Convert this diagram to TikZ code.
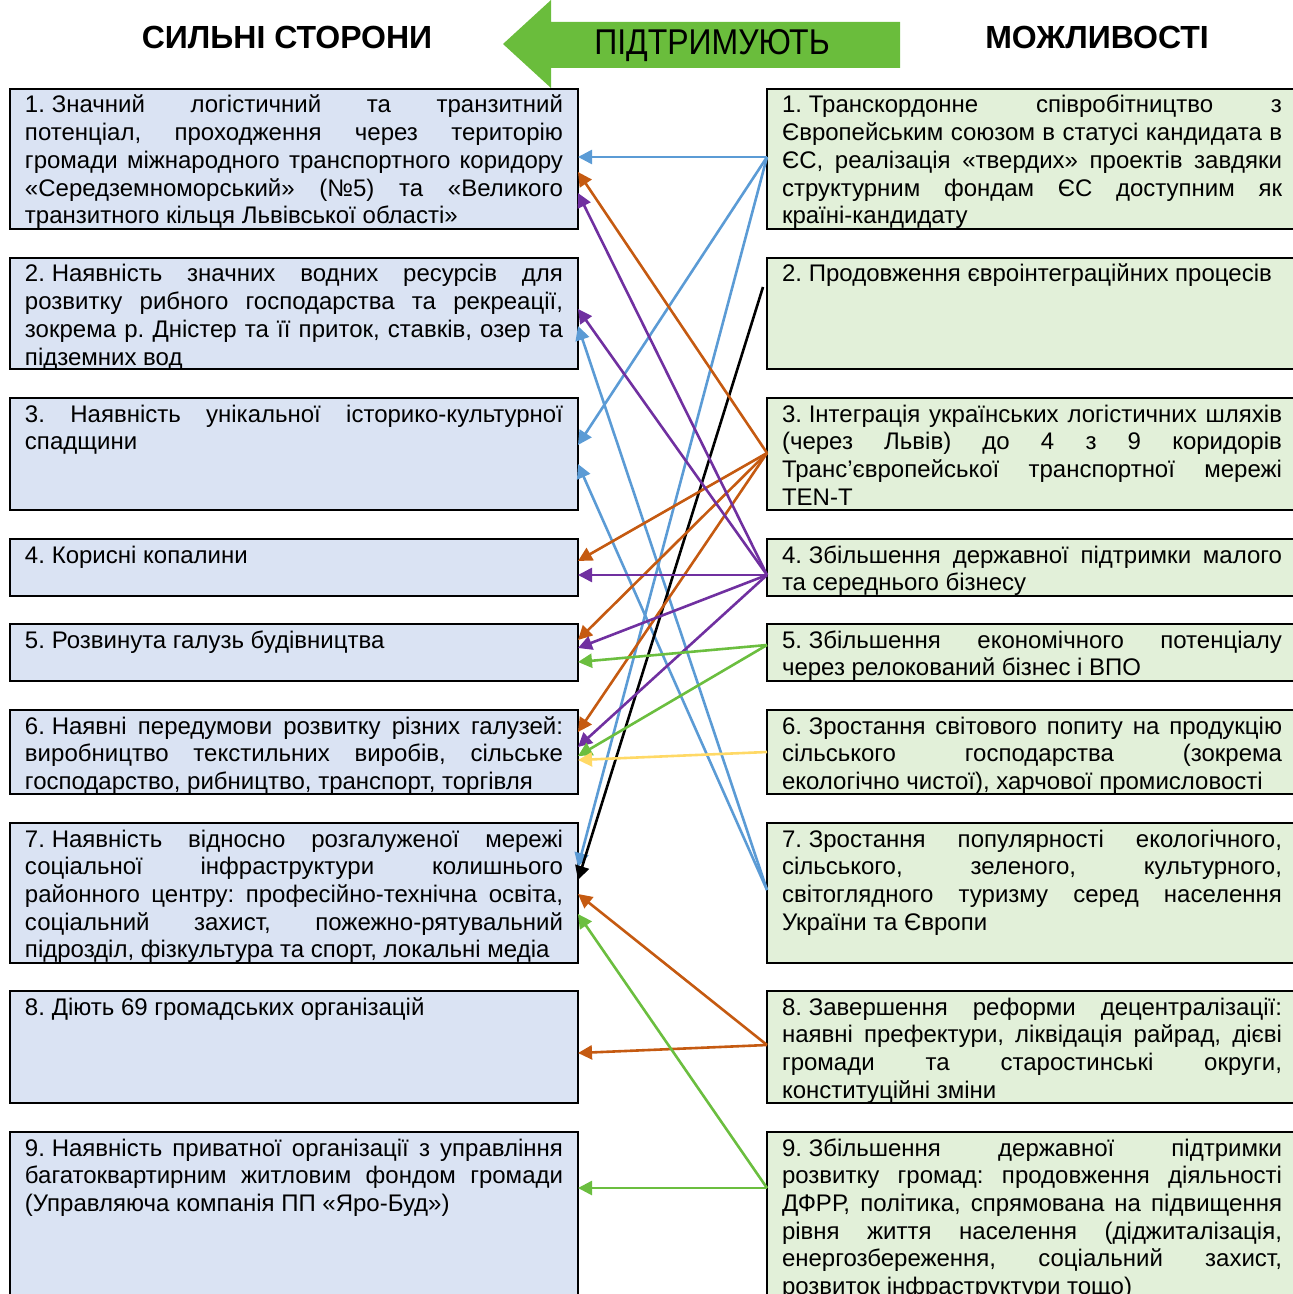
\documentclass[tikz,border=0pt]{standalone}
\usepackage{fontspec}
\setmainfont{Liberation Sans}
\usetikzlibrary{arrows.meta}

\definecolor{sfill}{HTML}{DAE3F3}
\definecolor{ofill}{HTML}{E2F0D9}
\definecolor{lblue}{HTML}{5B9BD5}
\definecolor{lorange}{HTML}{C55A11}
\definecolor{lviolet}{HTML}{7030A0}
\definecolor{lgreen}{HTML}{6BBE3F}
\definecolor{lyellow}{HTML}{FFD966}
\definecolor{bigarrow}{HTML}{6ABD3C}

\newcommand{\nm}[1]{#1.\kern3.4pt\relax}

\begin{document}
\begin{tikzpicture}[x=0.5pt, y=-0.5pt,
        strength/.style={draw, line width=1pt, fill=sfill, anchor=north west, outer sep=0pt,
            text width=269pt, inner xsep=7.5pt, inner ysep=0.5pt, text height=11.5pt,
            align=justify, font=\fontsize{12}{13.85}\selectfont\frenchspacing},
        chance/.style={strength, fill=ofill, text width=250pt},
        head/.style={font=\fontsize{16}{19}\selectfont\bfseries},
        link/.style={line width=1.3pt, -{Triangle[length=7pt, width=7pt]}}
    ]
    \useasboundingbox (0,0) rectangle (1293,1294);
    \clip (0,0) rectangle (1293,1294);

    % Заголовки
    \fill[bigarrow] (503,44) -- (551,0) -- (551,22) -- (900,22) -- (900,68) -- (551,68) -- (551,88) -- cycle;
    \node[font=\fontsize{16}{19}\selectfont, yscale=1.12] (pidtr) at (712,46) {ПІДТРИМУЮТЬ};
    \node[head] (sylni) at (287,37) {СИЛЬНІ СТОРОНИ};
    \node[head] (mozhl) at (1097,37) {МОЖЛИВОСТІ};

    % Сильні сторони
    \node[strength, text depth=57.5pt] (s1) at (10,89) {\nm{1}Значний логістичний та транзитний\linebreak
        потенціал, проходження через територію\linebreak
        громади міжнародного транспортного коридору\linebreak
        «Середземноморський» (№5) та «Великого\linebreak
        транзитного кільця Львівської області»};
    \node[strength, text depth=43pt] (s2) at (10,258) {\nm{2}Наявність значних водних ресурсів для\linebreak
        розвитку рибного господарства та рекреації,\linebreak
        зокрема р. Дністер та її приток, ставків, озер та\linebreak
        підземних вод};
    \node[strength, text depth=43.5pt] (s3) at (10,398) {3. Наявність унікальної історико-культурної\linebreak
        спадщини};
    \node[strength, text depth=16pt] (s4) at (10,539) {\nm{4}Корисні копалини};
    \node[strength, text depth=16pt] (s5) at (10,624) {\nm{5}Розвинута галузь будівництва};
    \node[strength, text depth=29.5pt] (s6) at (10,710) {\nm{6}Наявні передумови розвитку різних галузей:\linebreak
        виробництво текстильних виробів, сільське\linebreak
        господарство, рибництво, транспорт, торгівля};
    \node[strength, text depth=57.5pt] (s7) at (10,823) {\nm{7}Наявність відносно розгалуженої мережі\linebreak
        соціальної інфраструктури колишнього\linebreak
        районного центру: професійно-технічна освіта,\linebreak
        соціальний захист, пожежно-рятувальний\linebreak
        підрозділ, фізкультура та спорт, локальні медіа};
    \node[strength, text depth=43.5pt] (s8) at (10,991) {\nm{8}Діють 69 громадських організацій};
    \node[strength, text depth=100pt] (s9) at (10,1132) {\nm{9}Наявність приватної організації з управління\linebreak
        багатоквартирним житловим фондом громади\linebreak
        (Управляюча компанія ПП «Яро-Буд»)};

    % Можливості
    \node[chance, text depth=57.5pt] (o1) at (767,89) {\nm{1}Транскордонне співробітництво з\linebreak
        Європейським союзом в статусі кандидата в\linebreak
        ЄС, реалізація «твердих» проектів завдяки\linebreak
        структурним фондам ЄС доступним як\linebreak
        країні-кандидату};
    \node[chance, text depth=43pt] (o2) at (767,258) {\nm{2}Продовження євроінтеграційних процесів};
    \node[chance, text depth=43.5pt] (o3) at (767,398) {\nm{3}Інтеграція українських логістичних шляхів\linebreak
        (через Львів) до 4 з 9 коридорів\linebreak
        Транс’європейської транспортної мережі\linebreak
        TEN-T};
    \node[chance, text depth=16pt] (o4) at (767,539) {\nm{4}Збільшення державної підтримки малого\linebreak
        та середнього бізнесу};
    \node[chance, text depth=16pt] (o5) at (767,624) {\nm{5}Збільшення економічного потенціалу\linebreak
        через релокований бізнес і ВПО};
    \node[chance, text depth=29.5pt] (o6) at (767,710) {\nm{6}Зростання світового попиту на продукцію\linebreak
        сільського господарства (зокрема\linebreak
        екологічно чистої), харчової промисловості};
    \node[chance, text depth=57.5pt] (o7) at (767,823) {\nm{7}Зростання популярності екологічного,\linebreak
        сільського, зеленого, культурного,\linebreak
        світоглядного туризму серед населення\linebreak
        України та Європи};
    \node[chance, text depth=43.5pt] (o8) at (767,991) {\nm{8}Завершення реформи децентралізації:\linebreak
        наявні префектури, ліквідація райрад, дієві\linebreak
        громади та старостинські округи,\linebreak
        конституційні зміни};
    \node[chance, text depth=100pt] (o9) at (767,1132) {\nm{9}Збільшення державної підтримки\linebreak
        розвитку громад: продовження діяльності\linebreak
        ДФРР, політика, спрямована на підвищення\linebreak
        рівня життя населення (діджиталізація,\linebreak
        енергозбереження, соціальний захист,\linebreak
        розвиток інфраструктури тощо)};

    % Сині зв'язки
    \draw[link, lblue] ([yshift=-34pt]o1.north west) -- ([yshift=-34pt]s1.north east);
    \draw[link, lblue] ([yshift=-34pt]o1.north west) -- ([yshift=-23.5pt]s3.north east);
    \draw[link, lblue] ([yshift=-34pt]o1.north west) -- ([yshift=-22pt]s7.north east);
    \draw[link, lblue] ([yshift=-33.5pt]o7.north west) -- ([yshift=-34pt]s2.north east);
    \draw[link, lblue] ([yshift=-33.5pt]o7.north west) -- ([yshift=-33pt]s3.north east);

    % Чорний
    \draw[link, black] ([xshift=-2pt, yshift=-14.5pt]o2.north west) -- ([yshift=-28.5pt]s7.north east);

    % Помаранчеві
    \draw[link, lorange] ([yshift=-27.5pt]o3.north west) -- ([yshift=-41.5pt]s1.north east);
    \draw[link, lorange] ([yshift=-27.5pt]o3.north west) -- ([yshift=-11pt]s4.north east);
    \draw[link, lorange] ([yshift=-27.5pt]o3.north west) -- ([yshift=-8pt]s5.north east);
    \draw[link, lorange] ([yshift=-27.5pt]o3.north west) -- ([yshift=-11pt]s6.north east);
    \draw[link, lorange] ([yshift=-27pt]o8.north west) -- ([yshift=-35.5pt]s7.north east);
    \draw[link, lorange] ([yshift=-27pt]o8.north west) -- ([yshift=-31pt]s8.north east);

    % Фіолетові
    \draw[link, lviolet] ([yshift=-18pt]o4.north west) -- ([yshift=-52pt]s1.north east);
    \draw[link, lviolet] ([yshift=-18pt]o4.north west) -- ([yshift=-25.5pt]s2.north east);
    \draw[link, lviolet] ([yshift=-18pt]o4.north west) -- ([yshift=-18pt]s4.north east);
    \draw[link, lviolet] ([yshift=-18pt]o4.north west) -- ([yshift=-12pt]s5.north east);
    \draw[link, lviolet] ([yshift=-18pt]o4.north west) -- ([yshift=-18.5pt]s6.north east);

    % Зелені
    \draw[link, lgreen] ([yshift=-10.5pt]o5.north west) -- ([yshift=-19pt]s5.north east);
    \draw[link, lgreen] ([yshift=-10.5pt]o5.north west) -- ([yshift=-23pt]s6.north east);
    \draw[link, lgreen] ([yshift=-28pt]o9.north west) -- ([yshift=-45.5pt]s7.north east);
    \draw[link, lgreen] ([yshift=-28pt]o9.north west) -- ([yshift=-28pt]s9.north east);

    % Жовтий
    \draw[link, lyellow] ([yshift=-21pt]o6.north west) -- ([yshift=-25pt]s6.north east);
\end{tikzpicture}
\end{document}
